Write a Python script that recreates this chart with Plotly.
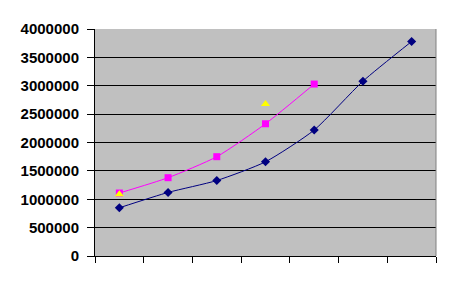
import plotly.graph_objects as go

categories = [1, 2, 3, 4, 5, 6, 7]
series_navy = [850000, 1120000, 1330000, 1660000, 2220000, 3080000, 3780000]
series_magenta = [1110000, 1380000, 1750000, 2330000, 3030000]
series_yellow_x = [1, 4]
series_yellow = [1090000, 2680000]
y_ticks = [0, 500000, 1000000, 1500000, 2000000, 2500000, 3000000, 3500000, 4000000]

fig = go.Figure()
fig.add_trace(go.Scatter(
    x=categories, y=series_navy, mode="lines+markers",
    line=dict(color="#000080", width=1, shape="spline", smoothing=0.6),
    marker=dict(symbol="diamond", size=7, color="#000080"),
))
fig.add_trace(go.Scatter(
    x=categories[:len(series_magenta)], y=series_magenta, mode="lines+markers",
    line=dict(color="#FF00FF", width=1, shape="spline", smoothing=0.6),
    marker=dict(symbol="square", size=7, color="#FF00FF"),
))
fig.add_trace(go.Scatter(
    x=series_yellow_x, y=series_yellow, mode="markers",
    marker=dict(symbol="triangle-up", size=8, color="#FFFF00"),
))

fig.update_layout(
    width=452, height=290,
    margin=dict(l=95, r=16, t=29, b=34),
    paper_bgcolor="white",
    plot_bgcolor="#C0C0C0",
    showlegend=False,
    font=dict(family="Liberation Sans, Arial, sans-serif", size=15, color="black"),
)
fig.update_xaxes(
    range=[0.5, 7.5],
    tickmode="array", tickvals=[0.5 + i for i in range(8)], ticktext=[""] * 8,
    ticks="outside", ticklen=6, tickcolor="black", tickwidth=1,
    showgrid=False, zeroline=False,
    showline=True, linecolor="black", linewidth=1,
    mirror=False,
)
fig.update_yaxes(
    range=[0, 4000000],
    tickmode="array", tickvals=y_ticks, ticktext=[f"<b>{v}</b>" for v in y_ticks],
    ticks="outside", ticklen=7, tickcolor="black", tickwidth=1,
    ticklabelstandoff=5,
    showgrid=True, gridcolor="black", gridwidth=1,
    zeroline=False,
    showline=True, linecolor="black", linewidth=1,
    tickfont=dict(size=15),
)
fig.add_shape(type="line", xref="paper", yref="paper", x0=1, x1=1, y0=0, y1=1,
              line=dict(color="#808080", width=1))
fig.write_html("out.html")
